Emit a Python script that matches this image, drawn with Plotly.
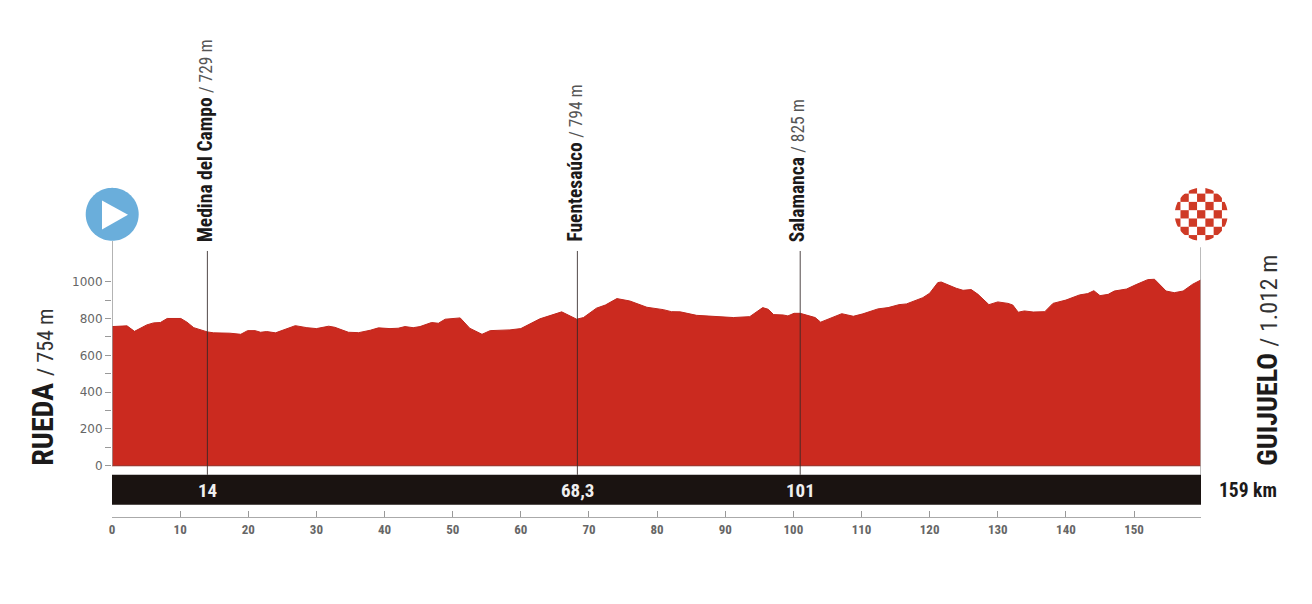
import numpy as np
import plotly.graph_objects as go

# --- data ---
km = [0,2.2,3.3,5.1,6.1,7.1,8.1,10.1,11,12,14,14.9,17.3,18.9,19.9,21,21.8,22.7,24,24.9,26.9,28.6,30,31.8,32.7,34.7,36.2,37.9,39.1,40.8,42,43,44.2,45.2,46.9,47.9,48.9,51.1,52.5,54.3,55.5,58.4,60,62.8,64.5,66,68.2,69.2,71.1,72.4,74.1,76,78.5,80.9,82.1,83.4,85.8,88.2,91.2,93.6,94.4,95.5,96.3,97.1,98.5,99.2,100.1,101,103.2,104,107.1,108.8,110.2,112.4,113.9,115.5,116.6,119,120,121.2,121.7,123.9,124.9,126.1,127.1,128.7,130,131.5,132.2,133,133.9,135.2,136.9,138.1,140,142,143.2,144.1,145,146.2,147.1,148.9,150.3,152,153,153.7,154.7,155.9,157.2,158.6,159.8]
elevation = [756,760,730,765,776,778,800,800,780,750,727,722,720,714,734,734,725,729,722,734,761,750,745,758,752,725,723,736,749,745,747,756,750,756,778,774,796,803,747,714,734,738,745,798,816,836,796,805,856,873,908,895,861,848,837,836,817,812,805,810,832,859,850,821,819,814,828,828,805,780,826,812,825,852,859,875,879,913,937,995,998,964,953,957,931,875,890,882,873,834,841,835,837,882,900,928,935,951,924,931,949,960,984,1011,1013,986,949,940,949,986,1009]
via_km = [14, 68.3, 101]
via_labels = ["14", "68,3", "101"]
via_names = ["Medina del Campo", "Fuentesaúco", "Salamanca"]
via_alts = ["729 m", "794 m", "825 m"]
x_ticks = [0,10,20,30,40,50,60,70,80,90,100,110,120,130,140,150,159.8]
x_tick_labels = ["0","10","20","30","40","50","60","70","80","90","100","110","120","130","140","150",""]
y_ticks = [0,100,200,300,400,500,600,700,800,900,1000]
y_tick_labels = ["0","","200","","400","","600","","800","","1000"]
start_name, start_alt = "RUEDA", "754 m"
finish_name, finish_alt = "GUIJUELO", "1.012 m"
distance = "159 km"

# --- page geometry: coordinates below are pixels of the 1312x604 page;
# the page body has an 8 px margin, so the figure itself is 16 px smaller.
PAGE = 8
W, H = 1312 - 2 * PAGE, 604 - 2 * PAGE
X0, PX_KM = 111.5, 6.82
Y0, PX_M = 466.0, 0.1843
L, R, T, B = X0, 1201.5, 241.0, 517.3
xv = lambda px: (px - X0) / PX_KM
yv = lambda py: (Y0 - py) / PX_M
xp = lambda px: (px - L) / (R - L)
yp = lambda py: (B - py) / (B - T)

RED = "#cb2a1f"
fig = go.Figure()

fig.add_trace(go.Scatter(x=km, y=elevation, mode="lines", fill="tozeroy",
                         fillcolor=RED, line=dict(color="#c0261c", width=1),
                         hoverinfo="skip", showlegend=False))
fig.add_trace(go.Scatter(x=[0, xv(R)], y=[0, 0], mode="lines",
                         line=dict(color="#8f2a22", width=1), hoverinfo="skip", showlegend=False))
fig.add_trace(go.Scatter(x=[0, 0], y=[0, yv(T)], mode="lines",
                         line=dict(color="#9a9a9a", width=1.5), hoverinfo="skip", showlegend=False))
fig.add_trace(go.Scatter(x=[xv(R), xv(R)], y=[yv(475), yv(T)], mode="lines",
                         line=dict(color="#a5a5a5", width=1.5), hoverinfo="skip", showlegend=False))
for k in via_km:
    fig.add_trace(go.Scatter(x=[k, k], y=[yv(475), yv(251)], mode="lines",
                             line=dict(color="rgba(50,40,40,0.85)", width=1),
                             hoverinfo="skip", showlegend=False))

def circle_path(cx, cy, rad):
    t = np.linspace(0, 2 * np.pi, 97)[:-1]
    return "M" + " L".join(f"{xp(cx + rad*np.cos(a))},{yp(cy + rad*np.sin(a))}" for a in t) + " Z"

shapes = []
shapes.append(dict(type="rect", xref="x", yref="y", x0=0, x1=xv(R), y0=yv(505), y1=yv(475),
                   fillcolor="#1a1311", line=dict(width=0), layer="above"))
# start: blue disc with play triangle
shapes.append(dict(type="path", xref="paper", yref="paper", fillcolor="#6aaedb", line=dict(width=0),
                   layer="above", path=circle_path(111.7, 214.3, 26.5)))
shapes.append(dict(type="path", xref="paper", yref="paper", fillcolor="white", line=dict(width=0), layer="above",
                   path=f"M{xp(101.5)},{yp(200.5)} L{xp(127.5)},{yp(214.8)} L{xp(101.5)},{yp(229.5)} Z"))
# finish: checkered disc
cx, cy, rad, cell = 1201.7, 214.3, 26.5, 8.3
for i in range(-3, 4):
    for j in range(-3, 4):
        if (i + j) % 2 == 0:
            shapes.append(dict(type="rect", xref="paper", yref="paper", layer="above",
                               x0=xp(cx + (i - .5) * cell), x1=xp(cx + (i + .5) * cell),
                               y0=yp(cy + (j + .5) * cell), y1=yp(cy + (j - .5) * cell),
                               fillcolor="#cf3a26", line=dict(width=0)))
m = 33
outer = (f"M{xp(cx-m)},{yp(cy-m)} L{xp(cx+m)},{yp(cy-m)} L{xp(cx+m)},{yp(cy+m)} L{xp(cx-m)},{yp(cy+m)} Z")
shapes.append(dict(type="path", xref="paper", yref="paper", layer="above", fillcolor="white",
                   line=dict(width=0), fillrule="evenodd", path=f"{outer} {circle_path(cx, cy, rad)}"))

NARROW = "Roboto Condensed"
ann = []
def note(px, py, text, size, color="#1c1a1a", angle=0, xa="center", ya="middle"):
    ann.append(dict(x=xp(px), y=yp(py), xref="paper", yref="paper", text=text, showarrow=False,
                    textangle=angle, xanchor=xa, yanchor=ya, borderpad=0,
                    font=dict(family=NARROW, size=size, color=color)))

lab_px = [205, 575, 798]
for name, alt, px in zip(via_names, via_alts, lab_px):
    note(px, 243, f"<b>{name}</b> <span style='color:#555;font-size:17.5px'>/ {alt}</span>", 19.5, angle=-90, ya="bottom")
for k, lab in zip(via_km, via_labels):
    note(X0 + k * PX_KM, 491, f"<b>{lab}</b>", 19, color="#efefef")
note(42, 467, f"<b>{start_name}</b> <span style='color:#333;font-size:22px'>/ {start_alt}</span>", 30, angle=-90, ya="bottom")
note(1268, 467, f"<b>{finish_name}</b> <span style='color:#333;font-size:24px'>/ {finish_alt}</span>", 28, angle=-90, ya="bottom")
note(1249, 491, f"<b>{distance}</b>", 19.5)

fig.update_layout(
    width=W, height=H,
    margin=dict(l=L - PAGE, r=W - (R - PAGE), t=T - PAGE, b=H - (B - PAGE), autoexpand=False),
    paper_bgcolor="white", plot_bgcolor="rgba(0,0,0,0)", showlegend=False,
    shapes=shapes, annotations=ann,
    xaxis=dict(range=[0, xv(R)], tickmode="array", tickvals=x_ticks, ticktext=x_tick_labels,
               ticks="inside", ticklen=6, tickcolor="#999", tickwidth=1,
               showline=True, linecolor="#aaa", linewidth=1, showgrid=False, zeroline=False,
               tickfont=dict(family=NARROW, size=13, color="#666", weight=700)),
    yaxis=dict(range=[yv(B), yv(T)], tickmode="array", tickvals=y_ticks, ticktext=y_tick_labels,
               ticks="outside", ticklen=6, tickcolor="#999", tickwidth=1,
               showline=False, showgrid=False, zeroline=False,
               tickfont=dict(family="DejaVu Sans", size=12, color="#666")),
)
fig.write_html("out.html", include_plotlyjs=True, config=dict(displayModeBar=False))
